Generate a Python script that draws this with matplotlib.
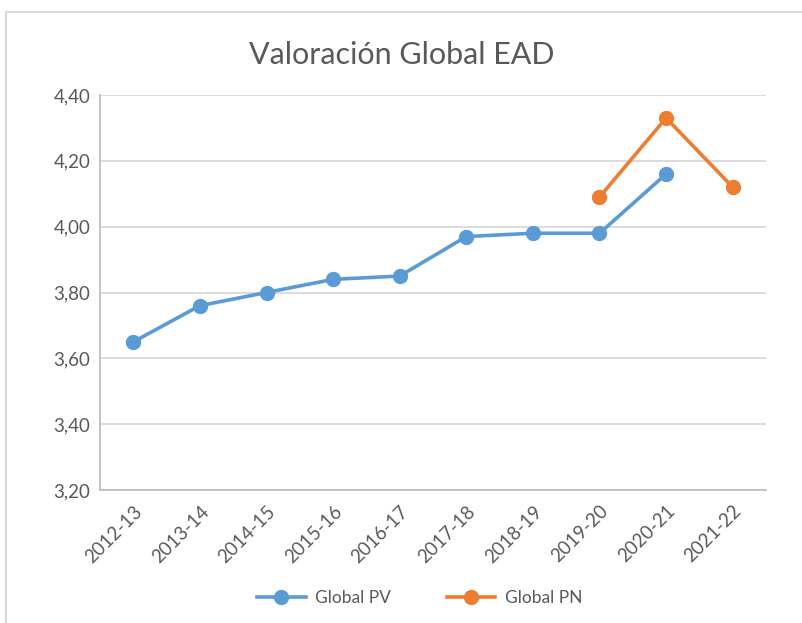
import numpy as np
import matplotlib.pyplot as plt
from matplotlib.patches import Rectangle

categories = ['2012-13', '2013-14', '2014-15', '2015-16', '2016-17',
              '2017-18', '2018-19', '2019-20', '2020-21', '2021-22']
global_pv = [3.65, 3.76, 3.80, 3.84, 3.85, 3.97, 3.98, 3.98, 4.16, np.nan]
global_pn = [np.nan, np.nan, np.nan, np.nan, np.nan, np.nan, np.nan, 4.09, 4.33, 4.12]
yticks = [3.20, 3.40, 3.60, 3.80, 4.00, 4.20, 4.40]

plt.rcParams['font.family'] = ['Lato', 'DejaVu Sans']
text_color = '#595959'
grid_color = '#D9D9D9'

fig = plt.figure(figsize=(8.03, 6.23), dpi=100)
ax = fig.add_axes([100 / 803, 1 - 490 / 623, 666 / 803, 395 / 623])

# chart-area border (Excel style), only top/left visible in the crop
fig.patches.append(Rectangle((6 / 803, -0.2), 1.2, 1.2 - 12 / 623,
                             transform=fig.transFigure, fill=False,
                             edgecolor='#D9D9D9', linewidth=1.5))

x = np.arange(len(categories))
ax.plot(x, global_pv, color='#5B9BD5', linewidth=2.6, marker='o',
        markersize=10, label='Global PV', zorder=3)
ax.plot(x, global_pn, color='#ED7D31', linewidth=2.6, marker='o',
        markersize=10, label='Global PN', zorder=3)

ax.set_xlim(-0.5, len(categories) - 0.5)
ax.set_ylim(3.20, 4.40)
ax.set_yticks(yticks)
ax.set_yticklabels([f'{v:.2f}'.replace('.', ',') for v in yticks])
ax.set_xticks(x)
ax.set_xticklabels(categories, rotation=45, ha='right', rotation_mode='anchor')

ax.grid(axis='y', color=grid_color, linewidth=1.3)
ax.set_axisbelow(True)
for side in ['top', 'right']:
    ax.spines[side].set_visible(False)
for side in ['left', 'bottom']:
    ax.spines[side].set_color('#BFBFBF')
    ax.spines[side].set_linewidth(1.3)
ax.tick_params(length=0, labelsize=13.5, colors=text_color)
ax.tick_params(axis='y', pad=7)
ax.tick_params(axis='x', pad=9)

fig.text(0.5, 1 - 55 / 623, 'Valoración Global EAD', ha='center', va='center',
         fontsize=22, color=text_color)

leg = ax.legend(loc='center', bbox_to_anchor=(0.48, (598 - 490) / -395),
                ncol=2, frameon=False, fontsize=12.5, handlelength=2.8,
                columnspacing=3.2, handletextpad=0.55)
for t in leg.get_texts():
    t.set_color(text_color)

fig.savefig('out.png', dpi=100)
